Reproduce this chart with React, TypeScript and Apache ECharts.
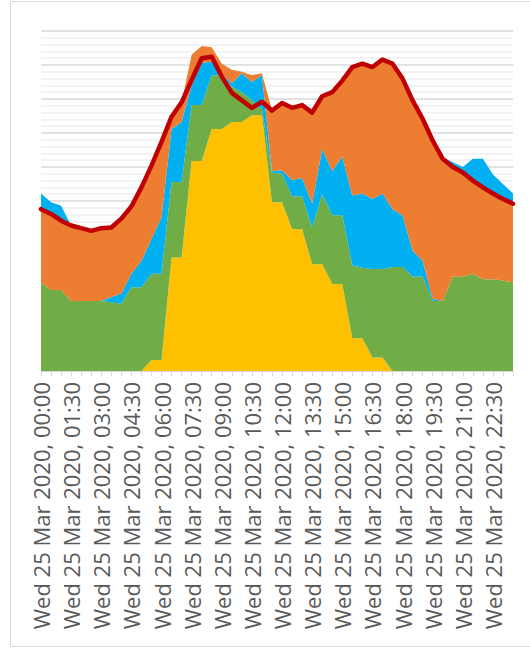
import React, { useEffect, useRef } from "react";
import * as echarts from "echarts";

const categories = [
  "Wed 25 Mar 2020, 00:00", "Wed 25 Mar 2020, 00:30", "Wed 25 Mar 2020, 01:00", "Wed 25 Mar 2020, 01:30",
  "Wed 25 Mar 2020, 02:00", "Wed 25 Mar 2020, 02:30", "Wed 25 Mar 2020, 03:00", "Wed 25 Mar 2020, 03:30",
  "Wed 25 Mar 2020, 04:00", "Wed 25 Mar 2020, 04:30", "Wed 25 Mar 2020, 05:00", "Wed 25 Mar 2020, 05:30",
  "Wed 25 Mar 2020, 06:00", "Wed 25 Mar 2020, 06:30", "Wed 25 Mar 2020, 07:00", "Wed 25 Mar 2020, 07:30",
  "Wed 25 Mar 2020, 08:00", "Wed 25 Mar 2020, 08:30", "Wed 25 Mar 2020, 09:00", "Wed 25 Mar 2020, 09:30",
  "Wed 25 Mar 2020, 10:00", "Wed 25 Mar 2020, 10:30", "Wed 25 Mar 2020, 11:00", "Wed 25 Mar 2020, 11:30",
  "Wed 25 Mar 2020, 12:00", "Wed 25 Mar 2020, 12:30", "Wed 25 Mar 2020, 13:00", "Wed 25 Mar 2020, 13:30",
  "Wed 25 Mar 2020, 14:00", "Wed 25 Mar 2020, 14:30", "Wed 25 Mar 2020, 15:00", "Wed 25 Mar 2020, 15:30",
  "Wed 25 Mar 2020, 16:00", "Wed 25 Mar 2020, 16:30", "Wed 25 Mar 2020, 17:00", "Wed 25 Mar 2020, 17:30",
  "Wed 25 Mar 2020, 18:00", "Wed 25 Mar 2020, 18:30", "Wed 25 Mar 2020, 19:00", "Wed 25 Mar 2020, 19:30",
  "Wed 25 Mar 2020, 20:00", "Wed 25 Mar 2020, 20:30", "Wed 25 Mar 2020, 21:00", "Wed 25 Mar 2020, 21:30",
  "Wed 25 Mar 2020, 22:00", "Wed 25 Mar 2020, 22:30", "Wed 25 Mar 2020, 23:00", "Wed 25 Mar 2020, 23:30",
];

const solar = [
  0, 0, 0, 0, 0, 0, 0, 0, 0, 0, 0, 1.6, 1.6, 16.7, 16.7, 30.9, 30.9, 35.6, 35.6, 36.6, 36.6, 37.6, 37.6, 24.8,
  24.8, 20.9, 20.9, 15.7, 15.7, 12.8, 12.8, 4.8, 4.8, 2.0, 2.0, 0, 0, 0, 0, 0, 0, 0, 0, 0, 0, 0, 0, 0,
];

const wind = [
  13.0, 11.9, 11.9, 10.3, 10.3, 10.3, 10.3, 10.1, 9.9, 12.3, 12.3, 12.7, 12.7, 11.1, 11.1, 8.2, 8.2, 7.9, 7.9, 5.2,
  4.4, 2.2, 0.9, 4.4, 4.2, 4.8, 4.8, 5.4, 10.3, 10.1, 10.1, 10.7, 10.4, 13.0, 13.0, 15.3, 15.3, 13.9, 13.9, 10.3,
  10.3, 13.9, 13.9, 14.3, 13.5, 13.5, 13.3, 13.0,
];

const blueMid = [
  0, 0, 0, 0, 0, 0, 0, 0.8, 1.5, 2.0, 3.9, 5.1, 8.3, 7.8, 8.8, 2.9, 6.2, 2.0, 0.1, 0.5, 2.8, 2.7, 5.0, 0.3,
  0.5, 2.4, 2.7, 3.5, 6.7, 6.5, 8.6, 10.3, 10.9, 10.3, 11.1, 8.5, 7.6, 3.8, 2.3, 0.3, 0, 0, 0, 0, 0, 0, 0, 0,
];

const gas = [
  10.8, 11.2, 10.2, 11.1, 10.7, 10.3, 10.7, 10.2, 11.0, 9.9, 10.8, 10.8, 11.1, 1.8, 2.9, 4.5, 2.5, 2.1, 1.6, 2.0,
  0.2, 1.0, 0.3, 8.8, 9.9, 10.6, 10.7, 13.4, 7.7, 11.6, 11.2, 18.9, 19.1, 19.4, 19.7, 21.4, 20.1, 22.1, 20.9, 23.3,
  20.9, 16.1, 15.3, 13.7, 13.5, 12.6, 12.0, 11.6,
];

const blueTop = [
  2.3, 1.7, 2.2, 0, 0, 0, 0, 0, 0, 0, 0, 0, 0, 0, 0, 0, 0, 0, 0, 0, 0, 0, 0, 0,
  0, 0, 0, 0, 0, 0, 0, 0, 0, 0, 0, 0, 0, 0, 0, 0, 0.2, 0.7, 0.8, 3.2, 4.2, 2.8, 2.2, 1.5,
];

const demand = [
  23.8, 23.1, 22.1, 21.4, 21.0, 20.6, 21.0, 21.1, 22.4, 24.2, 27.0, 30.2, 33.7, 37.4, 39.5, 42.8, 46.0, 46.2, 43.3,
  40.9, 39.8, 38.7, 39.6, 38.3, 39.4, 38.7, 39.1, 38.0, 40.4, 41.0, 42.7, 44.7, 45.2, 44.7, 45.8, 45.2, 43.0, 39.8,
  37.1, 33.9, 31.2, 30.0, 29.2, 28.0, 27.0, 26.1, 25.3, 24.6,
];

const areaSeries = (name: string, data: number[], color: string) => ({
  name,
  type: "line",
  stack: "total",
  data,
  symbol: "none",
  showSymbol: false,
  lineStyle: { width: 0, color },
  itemStyle: { color },
  areaStyle: { color, opacity: 1 },
  z: 2,
});

export default function App() {
  const ref = useRef<HTMLDivElement>(null);
  useEffect(() => {
    if (!ref.current) return;
    const chart = echarts.init(ref.current, undefined, { renderer: "svg" });
    chart.setOption({
      animation: false,
      backgroundColor: "#ffffff",
      grid: { left: 41, right: 17, top: 31, height: 340, containLabel: false },
      graphic: [
        {
          type: "rect",
          shape: { x: 10.5, y: 1.5, width: 530, height: 645 },
          style: { fill: "none", stroke: "#d9d9d9", lineWidth: 1 },
          silent: true,
        },
      ],
      xAxis: {
        type: "category",
        data: categories,
        boundaryGap: false,
        axisLine: { show: true, lineStyle: { color: "#d9d9d9", width: 1 } },
        axisTick: { show: true, interval: 0, length: 5, lineStyle: { color: "#d9d9d9" } },
        axisLabel: {
          interval: 2,
          rotate: 90,
          fontSize: 22,
          fontFamily: "Open Sans",
          color: "#595959",
          margin: 11,
        },
        splitLine: { show: false },
      },
      yAxis: {
        type: "value",
        min: 0,
        max: 50,
        interval: 5,
        axisLabel: { show: false },
        axisLine: { show: false },
        axisTick: { show: false },
        splitLine: { show: true, lineStyle: { color: "#d9d9d9", width: 1.5 } },
        minorTick: { show: false, splitNumber: 5 },
        minorSplitLine: { show: true, lineStyle: { color: "#efefef", width: 1.5 } },
      },
      series: [
        areaSeries("Solar", solar, "#ffc000"),
        areaSeries("Wind", wind, "#70ad47"),
        areaSeries("Other", blueMid, "#00b0f0"),
        areaSeries("Gas", gas, "#ed7d31"),
        areaSeries("Exports", blueTop, "#00b0f0"),
        {
          name: "Demand",
          type: "line",
          data: demand,
          symbol: "none",
          showSymbol: false,
          lineStyle: { width: 4.5, color: "#c00000", join: "round", cap: "round" },
          itemStyle: { color: "#c00000" },
          z: 5,
        },
      ],
    });
    return () => chart.dispose();
  }, []);
  return (
    <div
      ref={ref}
      style={{ position: "absolute", left: 0, top: 0, width: 530, height: 649 }}
    />
  );
}
